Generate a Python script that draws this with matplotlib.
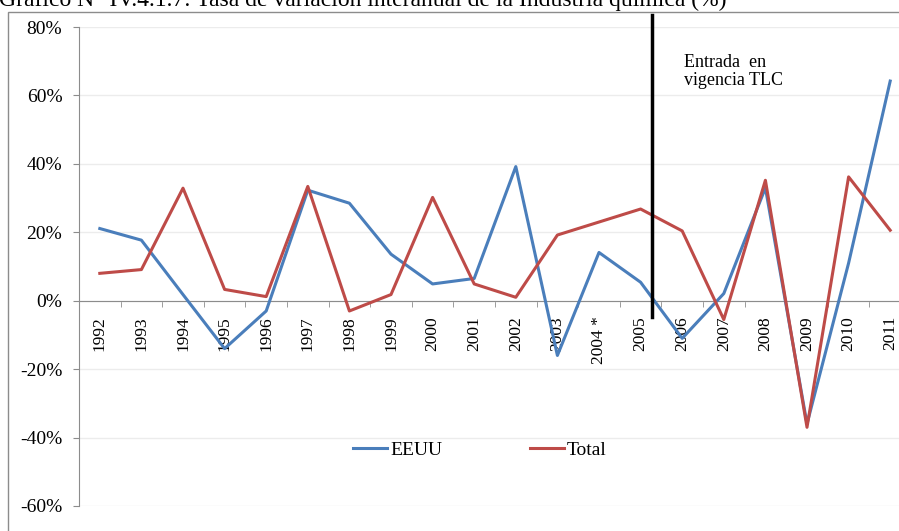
import matplotlib
matplotlib.use('Agg')
import matplotlib.pyplot as plt
from matplotlib.patches import Rectangle

# datos
years = ['1992', '1993', '1994', '1995', '1996', '1997', '1998', '1999', '2000', '2001',
         '2002', '2003', '2004 *', '2005', '2006', '2007', '2008', '2009', '2010', '2011']
eeuu = [21.1, 17.7, 1.8, -14.0, -3.0, 32.3, 28.5, 13.6, 4.9, 6.5,
        39.2, -16.0, 14.1, 5.4, -11.0, 2.1, 33.0, -36.0, 11.0, 64.2]
total = [8.0, 9.1, 32.9, 3.3, 1.2, 33.4, -3.0, 1.8, 30.2, 4.9,
         1.0, 19.2, 23.0, 26.8, 20.4, -5.5, 35.2, -37.0, 36.2, 20.6]
tlc_pos = 13.27  # entre 2005 y 2006

plt.rcParams['font.family'] = ['Liberation Serif', 'DejaVu Serif']

W, H = 899, 531
fig = plt.figure(figsize=(W / 100, H / 100), dpi=100)

# marco exterior del gráfico (recortado a la derecha y abajo)
fig.patches.append(Rectangle((8 / W, -0.1), 1.2, 1 - 12 / H + 0.1, transform=fig.transFigure,
                             fill=False, edgecolor='#8c8c8c', linewidth=1.0))

# el título aparece recortado arriba, como en el original
fig.text(-1 / W, 1 - 6 / H, 'Gráfico N° IV.4.1.7: Tasa de variación interanual de la Industria química (%)',
         fontsize=17, va='baseline', ha='left')

x0, x1 = 79 / W, 911 / W
y_top, y_bot = 1 - 27 / H, 1 - 506 / H
ax = fig.add_axes([x0, y_bot, x1 - x0, y_top - y_bot])

x = list(range(len(years)))
ax.plot(x, eeuu, color='#4A7EBB', lw=2.2, label='EEUU', zorder=3)
ax.plot(x, total, color='#BE4B48', lw=2.2, label='Total', zorder=3)

ax.set_xlim(-0.5, len(years) - 0.5)
ax.set_ylim(-60, 80)
ax.set_yticks(range(-60, 81, 20))
ax.set_yticklabels([f'{v}%' for v in range(-60, 81, 20)], fontsize=14)
ax.grid(axis='y', color='#ececec', lw=1.0, zorder=0)

for s in ['top', 'right']:
    ax.spines[s].set_visible(False)
ax.spines['left'].set_color('#8c8c8c')
ax.spines['bottom'].set_position(('data', 0))
ax.spines['bottom'].set_color('#8c8c8c')
ax.spines['bottom'].set_zorder(2)

ax.set_xticks(x)
ax.set_xticklabels(years, rotation=90, fontsize=12.5, va='top')
ax.set_xticks([i + 0.5 for i in x], minor=True)
ax.tick_params(axis='x', which='major', length=0, pad=11)
ax.tick_params(axis='x', which='minor', length=4, color='#8c8c8c', direction='out')
ax.tick_params(axis='y', length=4, color='#8c8c8c', pad=8)

# línea vertical TLC
ax.plot([tlc_pos, tlc_pos], [-4.7, 83.5], color='black', lw=2.5, clip_on=False, zorder=4)
ax.text(tlc_pos + 0.77, 67, 'Entrada  en\nvigencia TLC', fontsize=13, va='center',
        ha='left', linespacing=1.1)

ax.legend(loc='center', ncol=2, frameon=False, fontsize=14, handlelength=1.75,
          columnspacing=4.5, handletextpad=0.15)
ax.legend_.set_bbox_to_anchor(((480 - 79) / 832, 1 - (450 - 27) / 479), transform=ax.transAxes)

fig.savefig('out.png', dpi=100)
